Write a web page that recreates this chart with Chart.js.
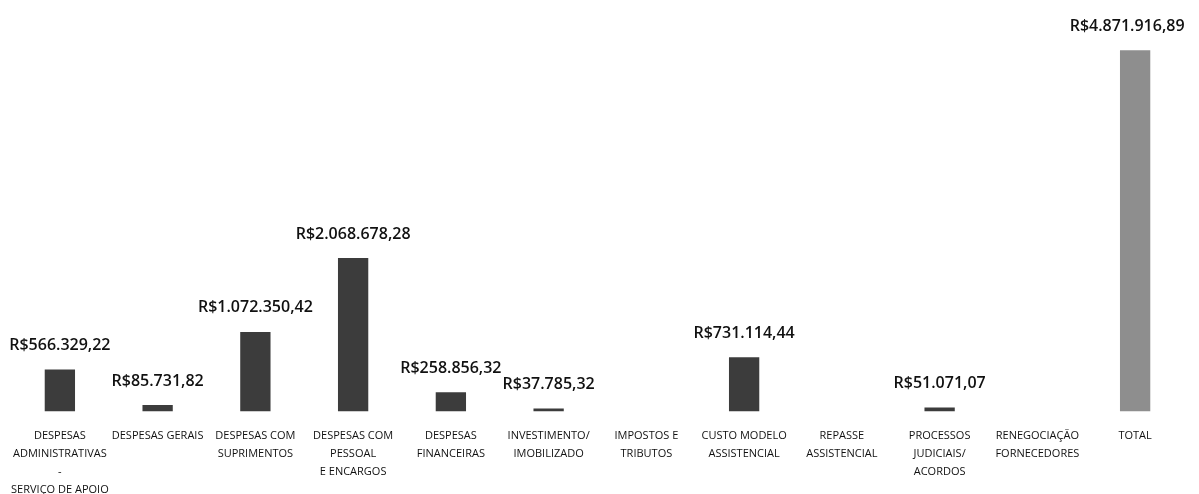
<!DOCTYPE html>
<html>

<head>
    <meta charset="utf-8">
    <title>Despesas</title>
    <script src="https://cdn.jsdelivr.net/npm/chart.js@4/dist/chart.umd.min.js"></script>
    <style>
        html, body { margin: 0; padding: 0; background: #fff; overflow: hidden; }
        #wrap { width: 1199px; height: 494px; overflow: hidden; }
    </style>
</head>

<body>
    <div id="wrap">
        <canvas id="despesas" width="1199" height="506"></canvas>
    </div>

    <script>
        // categories (multi-line tick labels)
        var categorias = [
            ["DESPESAS", "ADMINISTRATIVAS", "-", "SERVIÇO DE APOIO"],
            ["DESPESAS GERAIS"],
            ["DESPESAS COM", "SUPRIMENTOS"],
            ["DESPESAS COM", "PESSOAL", "E ENCARGOS"],
            ["DESPESAS", "FINANCEIRAS"],
            ["INVESTIMENTO/", "IMOBILIZADO"],
            ["IMPOSTOS E", "TRIBUTOS"],
            ["CUSTO MODELO", "ASSISTENCIAL"],
            ["REPASSE", "ASSISTENCIAL"],
            ["PROCESSOS", "JUDICIAIS/", "ACORDOS"],
            ["RENEGOCIAÇÃO", "FORNECEDORES"],
            ["TOTAL"]
        ];

        // values in R$ (null = no spending shown)
        var valores = [566329.22, 85731.82, 1072350.42, 2068678.28, 258856.32, 37785.32,
            null, 731114.44, null, 51071.07, null, 4871916.89];

        // value labels as printed on the chart
        var rotulos = ["R$566.329,22", "R$85.731,82", "R$1.072.350,42", "R$2.068.678,28",
            "R$258.856,32", "R$37.785,32", "", "R$731.114,44", "", "R$51.071,07", "",
            "R$4.871.916,89"];

        var corBarras = valores.map(function (v, i) {
            return i === valores.length - 1 ? "#8e8e8e" : "#3c3c3c";
        });

        // draws value labels above each bar
        var rotuloPlugin = {
            id: 'rotulos',
            afterDatasetsDraw: function (chart) {
                var ctx = chart.ctx;
                var meta = chart.getDatasetMeta(0);
                ctx.save();
                ctx.font = "600 16px 'Open Sans', sans-serif";
                ctx.fillStyle = "#111";
                ctx.textAlign = "center";
                ctx.textBaseline = "middle";
                meta.data.forEach(function (bar, i) {
                    if (valores[i] === null) return;
                    var x = bar.x;
                    if (i === valores.length - 1) x = bar.x - 8;
                    ctx.fillText(rotulos[i], x, bar.y - 24);
                });
                ctx.restore();
            }
        };

        var grafico = new Chart(document.getElementById("despesas"), {
            type: 'bar',
            data: {
                labels: categorias,
                datasets: [{
                    data: valores,
                    backgroundColor: corBarras,
                    barPercentage: 0.31,
                    categoryPercentage: 1
                }]
            },
            options: {
                responsive: false,
                animation: false,
                layout: { padding: { left: 11, right: 15, top: 0, bottom: 0 } },
                plugins: {
                    legend: { display: false },
                    tooltip: { enabled: false }
                },
                scales: {
                    x: {
                        grid: { display: false },
                        border: { display: false },
                        ticks: {
                            autoSkip: false,
                            maxRotation: 0,
                            padding: 7,
                            color: "#111",
                            font: { family: "'Open Sans', sans-serif", size: 11, lineHeight: 1.65 }
                        }
                    },
                    y: {
                        display: false,
                        min: 0,
                        max: 5550000
                    }
                }
            },
            plugins: [rotuloPlugin]
        });
    </script>
</body>

</html>
